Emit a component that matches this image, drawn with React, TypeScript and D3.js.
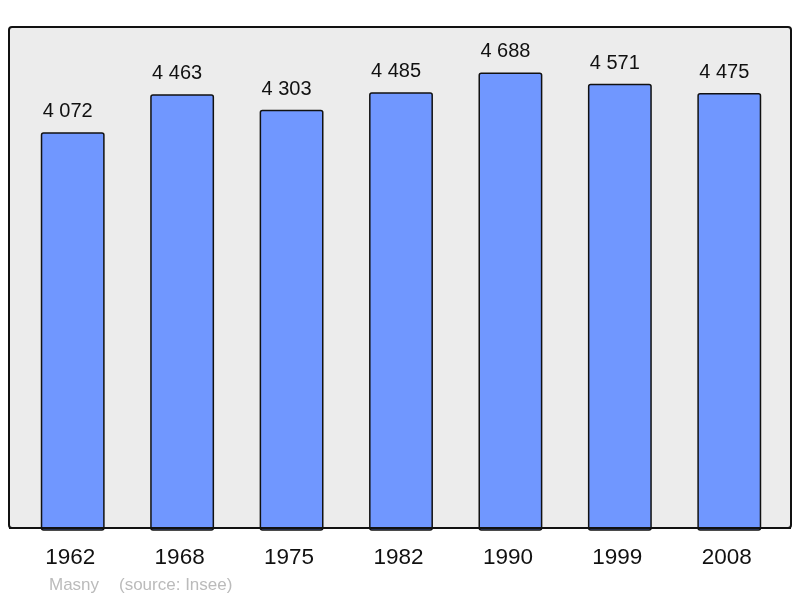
import React, { useEffect, useRef } from "react";
import * as d3 from "d3";

const years = ["1962", "1968", "1975", "1982", "1990", "1999", "2008"];
const population = [4072, 4463, 4303, 4485, 4688, 4571, 4475];
const townName = "Masny";
const sourceNote = "(source: Insee)";

const App = () => {
    const chartRef = useRef<HTMLDivElement>(null);

    useEffect(() => {
        // Clear the previous chart
        d3.select(chartRef.current).select("svg").remove();

        const width = 800;
        const height = 598;
        const panel = { left: 9, top: 27, right: 791, bottom: 528 };
        const font = "'Liberation Sans', Arial, sans-serif";

        const svg = d3
            .select(chartRef.current)
            .append("svg")
            .attr("width", width)
            .attr("height", height)
            .style("display", "block");

        // Background panel
        svg.append("rect")
            .attr("x", panel.left)
            .attr("y", panel.top)
            .attr("width", panel.right - panel.left)
            .attr("height", panel.bottom - panel.top)
            .attr("rx", 3)
            .attr("fill", "#ececec")
            .attr("stroke", "#111")
            .attr("stroke-width", 2);

        // Scales
        const xScale = d3
            .scaleBand()
            .domain(years)
            .range([18, 784])
            .paddingInner(0.43)
            .paddingOuter(0.215);

        const yScale = d3
            .scaleLinear()
            .domain([0, 5164])
            .range([panel.bottom, panel.top]);

        const data = years.map((y, i) => ({ year: y, value: population[i] }));
        const center = (year: string) => xScale(year)! + xScale.bandwidth() / 2;

        // Bars
        svg.selectAll(".bar")
            .data(data)
            .enter()
            .append("rect")
            .attr("class", "bar")
            .attr("x", (d) => xScale(d.year)!)
            .attr("y", (d) => yScale(d.value))
            .attr("width", xScale.bandwidth())
            .attr("height", (d) => panel.bottom - yScale(d.value) + 2)
            .attr("rx", 2)
            .attr("fill", "#7097ff")
            .attr("stroke", "#111")
            .attr("stroke-width", 1.5);

        // Redraw the panel bottom line on top of the bars
        svg.append("line")
            .attr("x1", panel.left)
            .attr("x2", panel.right)
            .attr("y1", panel.bottom)
            .attr("y2", panel.bottom)
            .attr("stroke", "#111")
            .attr("stroke-width", 2);

        // Value labels (sit a little left of the bar centre in the original)
        svg.selectAll(".value-label")
            .data(data)
            .enter()
            .append("text")
            .attr("class", "value-label")
            .attr("x", (d) => center(d.year) - 5)
            .attr("y", (d) => yScale(d.value) - 16)
            .attr("text-anchor", "middle")
            .style("font-family", font)
            .style("font-size", "20px")
            .attr("fill", "#111")
            .text((d) => d3.format(",")(d.value).replace(",", " "));

        // Year labels
        svg.selectAll(".year-label")
            .data(data)
            .enter()
            .append("text")
            .attr("class", "year-label")
            .attr("x", (d) => center(d.year) - 2.5)
            .attr("y", 564)
            .attr("text-anchor", "middle")
            .style("font-family", font)
            .style("font-size", "22.5px")
            .attr("fill", "#111")
            .text((d) => d.year);

        // Footer
        svg.append("text")
            .attr("x", 49)
            .attr("y", 590)
            .style("font-family", font)
            .style("font-size", "17px")
            .attr("fill", "#bbbbbb")
            .text(townName);

        svg.append("text")
            .attr("x", 119)
            .attr("y", 590)
            .style("font-family", font)
            .style("font-size", "17px")
            .attr("fill", "#bbbbbb")
            .text(sourceNote);
    }, []);

    return (
        <div
            ref={chartRef}
            style={{ position: "fixed", left: 0, top: 0, width: 800, height: 598, overflow: "hidden" }}
        ></div>
    );
};

export default App;
